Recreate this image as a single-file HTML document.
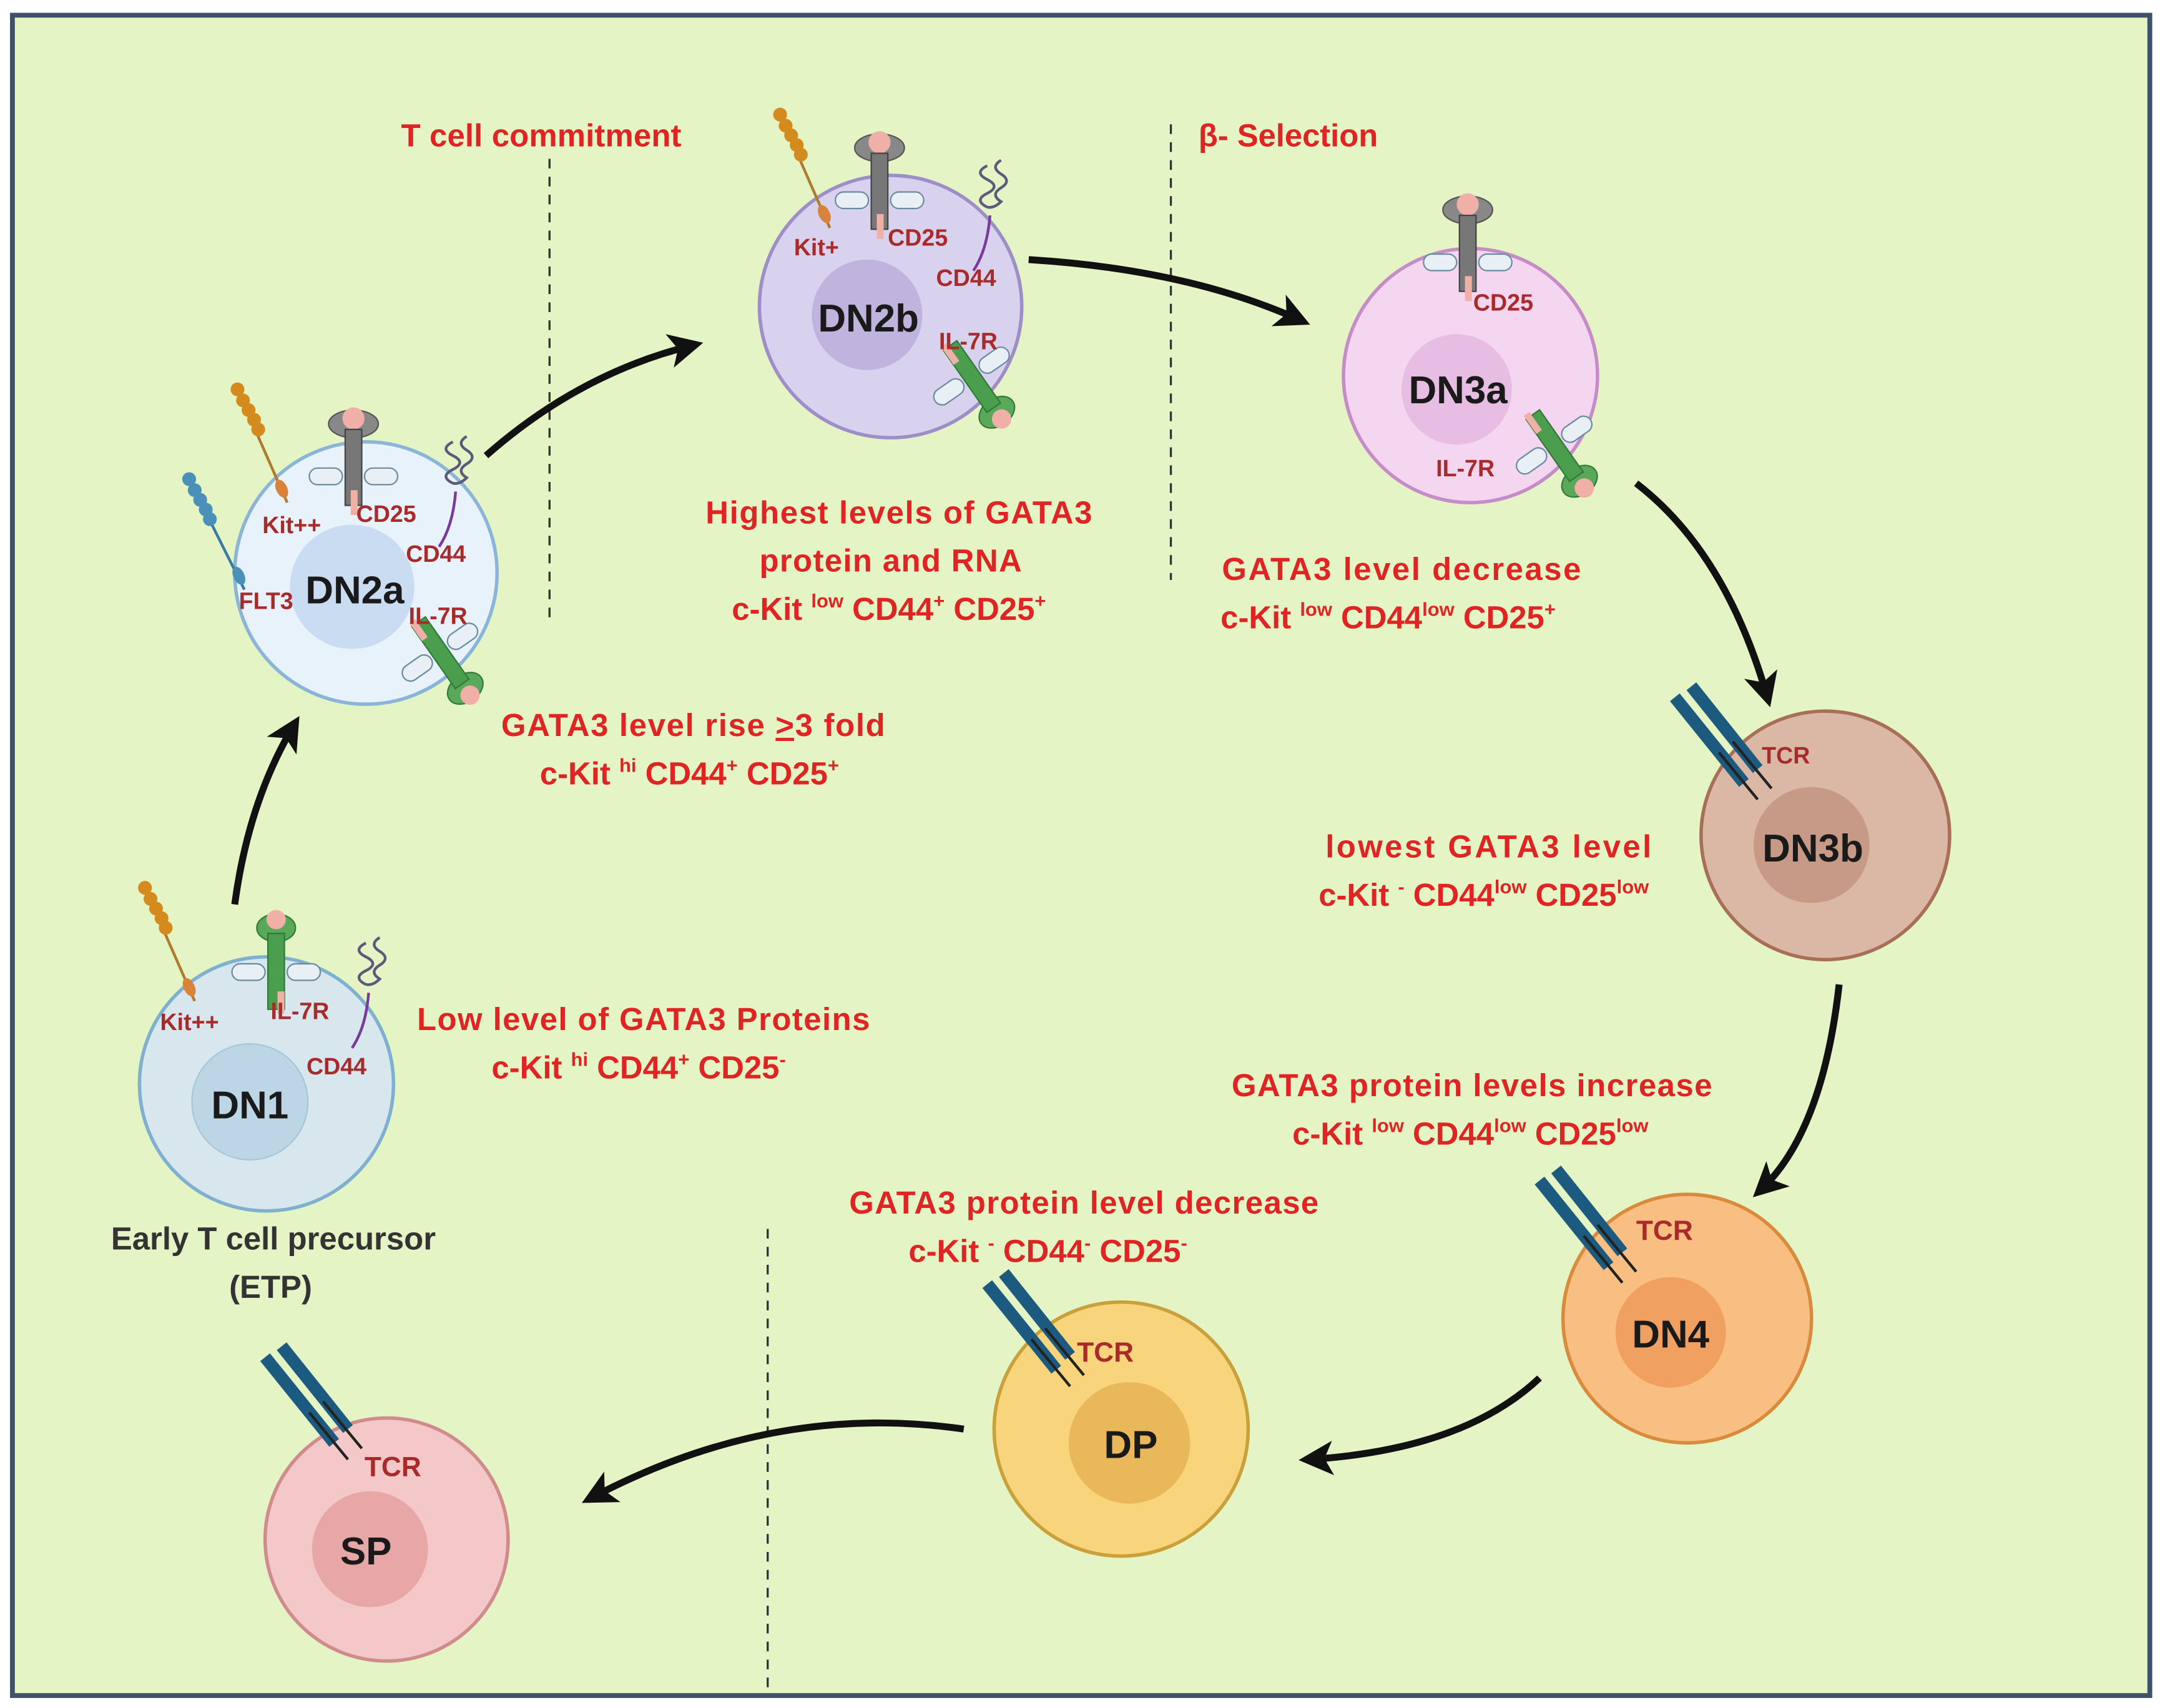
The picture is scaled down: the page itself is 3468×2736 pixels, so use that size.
<!DOCTYPE html>
<html><head><meta charset="utf-8"><style>
html,body{margin:0;padding:0;background:#fff}
svg{display:block}
text{font-family:"Liberation Sans",sans-serif}
.r{fill:#e02424;font-size:23px;font-weight:bold}
.m{fill:#a82a2a;font-size:17px;font-weight:bold}
.n{fill:#1a1a1a;font-size:28px;font-weight:bold}
.k{fill:#333;font-size:23px;font-weight:bold}
</style></head><body>
<svg width="3468" height="2736" viewBox="0 0 1568 1237" xmlns="http://www.w3.org/2000/svg">
<defs>
<marker id="ah" viewBox="0 0 10 10" refX="7" refY="5" markerWidth="5" markerHeight="5" orient="auto"><path d="M0,0 L10,5 L0,10 L2.5,5 z" fill="#111"/></marker>
<g id="kit"><line x1="0" y1="0" x2="36" y2="82" stroke="#b07a30" stroke-width="2"/>
<g fill="#d48a1c"><circle cx="0" cy="0" r="5"/><circle cx="4" cy="8" r="5"/><circle cx="8" cy="15" r="5"/><circle cx="12" cy="22" r="5"/><circle cx="15" cy="29" r="5"/></g>
<ellipse cx="32" cy="72" rx="4" ry="7" fill="#d8823a" transform="rotate(-25 32 72)"/></g>
<g id="flt"><line x1="0" y1="0" x2="40" y2="80" stroke="#3a7aa0" stroke-width="2"/>
<g fill="#4a90b8"><circle cx="0" cy="0" r="5"/><circle cx="4" cy="8" r="5"/><circle cx="8" cy="15" r="5"/><circle cx="12" cy="22" r="5"/><circle cx="15" cy="29" r="5"/></g>
<ellipse cx="36" cy="70" rx="4" ry="7" fill="#4a90b8" transform="rotate(-25 36 70)"/></g>
<g id="grec"><ellipse cx="0" cy="12" rx="18" ry="10" fill="#888" stroke="#555"/><circle cx="0" cy="8" r="8" fill="#f0b0a8"/><rect x="-6" y="16" width="12" height="55" fill="#777" stroke="#444"/><rect x="-2" y="60" width="5" height="18" fill="#f0b0a8"/>
<rect x="-32" y="44" width="24" height="12" rx="6" fill="#e8f0f6" stroke="#6a8aa0"/><rect x="8" y="44" width="24" height="12" rx="6" fill="#e8f0f6" stroke="#6a8aa0"/></g>
<g id="il7"><ellipse cx="0" cy="14" rx="14" ry="10" fill="#5aa85a" stroke="#2f7a3a"/><circle cx="0" cy="8" r="7" fill="#f0b0a8"/><rect x="-6" y="18" width="12" height="55" fill="#4a9e4e" stroke="#2f7a3a"/><rect x="1" y="60" width="5" height="16" fill="#f0b0a8"/>
<rect x="-32" y="40" width="24" height="12" rx="6" fill="#e8f0f6" stroke="#6a8aa0"/><rect x="8" y="40" width="24" height="12" rx="6" fill="#e8f0f6" stroke="#6a8aa0"/></g>
<g id="sq"><path d="M0,0 q-10,5 0,10 q10,5 0,10 q-10,5 0,10 M10,-4 q-8,5 0,10 q8,5 0,10 q-8,5 0,10 q-5,5 -10,4" fill="none" stroke="#5a5a7a" stroke-width="2"/><path d="M2,36 q-2,25 -12,40" fill="none" stroke="#7a3a9a" stroke-width="2"/></g>
<g id="tcr"><line x1="0" y1="0" x2="50" y2="62" stroke="#1d5a80" stroke-width="9"/><line x1="12" y1="-8" x2="60" y2="52" stroke="#1d5a80" stroke-width="9"/>
<line x1="32" y1="40" x2="60" y2="74" stroke="#222" stroke-width="2"/><line x1="42" y1="32" x2="70" y2="66" stroke="#222" stroke-width="2"/></g>
</defs>
<rect x="0" y="0" width="1568" height="1237" fill="#fff"/>
<rect x="9" y="11" width="1548" height="1217" fill="#e4f4c4" stroke="#3f5068" stroke-width="3.5"/>

<g stroke="#333" stroke-width="1.5" stroke-dasharray="7,6"><line x1="398" y1="115" x2="398" y2="448"/><line x1="848" y1="90" x2="848" y2="420"/><line x1="556" y1="890" x2="556" y2="1225"/></g>

<g fill="none" stroke="#111" stroke-width="5" marker-end="url(#ah)">
<path d="M170,655 Q180,580 213,525"/>
<path d="M352,330 Q420,270 502,250"/>
<path d="M745,188 Q860,195 942,232"/>
<path d="M1185,350 Q1250,400 1280,505"/>
<path d="M1332,713 Q1320,820 1275,862"/>
<path d="M1115,998 Q1060,1050 948,1057"/>
<path d="M698,1035 Q560,1015 428,1085"/>
</g>

<!-- DN1 -->
<circle cx="193" cy="785" r="92" fill="#d8e6ee" stroke="#7fb0cf" stroke-width="2.5"/>
<circle cx="181" cy="798" r="42" fill="#bcd6e6" stroke="#a8c6d8"/>
<text class="n" x="181" y="810" text-anchor="middle">DN1</text>
<use href="#kit" x="105" y="643"/><use href="#il7" x="200" y="658"/><use href="#sq" x="265" y="683"/>
<text class="m" x="116" y="746">Kit++</text><text class="m" x="196" y="738">IL-7R</text><text class="m" x="222" y="778">CD44</text>
<text class="k" x="198" y="905" text-anchor="middle">Early T cell precursor</text><text class="k" x="196" y="940" text-anchor="middle">(ETP)</text>

<!-- DN2a -->
<circle cx="265" cy="415" r="95" fill="#e8f2fb" stroke="#8ab4d8" stroke-width="2.5"/>
<circle cx="255" cy="425" r="45" fill="#c9dcf2"/>
<text class="n" x="257" y="437" text-anchor="middle">DN2a</text>
<use href="#kit" x="172" y="282"/><use href="#flt" x="137" y="347"/><use href="#grec" x="256" y="295"/><use href="#sq" x="328" y="320"/>
<use href="#il7" transform="translate(345,510) rotate(145)"/>
<text class="m" x="190" y="386">Kit++</text><text class="m" x="258" y="378">CD25</text><text class="m" x="294" y="407">CD44</text><text class="m" x="173" y="441">FLT3</text><text class="m" x="296" y="452">IL-7R</text>

<!-- DN2b -->
<circle cx="645" cy="222" r="95" fill="#d9d2ee" stroke="#9d8ec8" stroke-width="2.5"/>
<circle cx="628" cy="228" r="40" fill="#c0b3de"/>
<text class="n" x="629" y="240" text-anchor="middle">DN2b</text>
<use href="#kit" x="565" y="83"/><use href="#grec" x="637" y="95"/><use href="#sq" x="715" y="120"/>
<use href="#il7" transform="translate(730,310) rotate(145)"/>
<text class="m" x="575" y="185">Kit+</text><text class="m" x="643" y="178">CD25</text><text class="m" x="678" y="207">CD44</text><text class="m" x="680" y="253">IL-7R</text>

<!-- DN3a -->
<circle cx="1065" cy="272" r="92" fill="#f5d6f0" stroke="#c58cc7" stroke-width="2.5"/>
<circle cx="1055" cy="282" r="40" fill="#e8bde4"/>
<text class="n" x="1056" y="292" text-anchor="middle">DN3a</text>
<use href="#grec" x="1063" y="140"/><use href="#il7" transform="translate(1152,360) rotate(145)"/>
<text class="m" x="1067" y="225">CD25</text><text class="m" x="1040" y="345">IL-7R</text>

<!-- DN3b -->
<circle cx="1322" cy="605" r="90" fill="#dbb8a5" stroke="#a86f57" stroke-width="2.5"/>
<circle cx="1312" cy="612" r="42" fill="#c79a88"/>
<text class="n" x="1313" y="624" text-anchor="middle">DN3b</text>
<use href="#tcr" x="1213" y="505"/><text class="m" x="1276" y="553">TCR</text>

<!-- DN4 -->
<circle cx="1222" cy="955" r="90" fill="#f9bf82" stroke="#d98a3c" stroke-width="2.5"/>
<circle cx="1210" cy="965" r="40" fill="#f0a060"/>
<text class="n" x="1210" y="976" text-anchor="middle">DN4</text>
<use href="#tcr" x="1115" y="855"/><text class="m" x="1185" y="898" style="font-size:20px">TCR</text>

<!-- DP -->
<circle cx="812" cy="1035" r="92" fill="#f8d57c" stroke="#caa03a" stroke-width="2.5"/>
<circle cx="818" cy="1045" r="44" fill="#e9b85a"/>
<text class="n" x="819" y="1056" text-anchor="middle">DP</text>
<use href="#tcr" x="715" y="930"/><text class="m" x="780" y="986" style="font-size:20px">TCR</text>

<!-- SP -->
<circle cx="280" cy="1115" r="88" fill="#f4c8c8" stroke="#d08c8c" stroke-width="2.5"/>
<circle cx="268" cy="1122" r="42" fill="#e8a7a7"/>
<text class="n" x="265" y="1133" text-anchor="middle">SP</text>
<use href="#tcr" x="192" y="983"/><text class="m" x="264" y="1069" style="font-size:20px">TCR</text>

<!-- labels -->
<text class="r" x="392" y="106" text-anchor="middle" textLength="203">T cell commitment</text>
<text class="r" x="868" y="106" textLength="130">β- Selection</text>

<text class="r" x="651" y="379" text-anchor="middle" textLength="280">Highest levels of GATA3</text>
<text class="r" x="645" y="414" text-anchor="middle" textLength="190">protein and RNA</text>
<text class="r" x="530" y="449">c-Kit <tspan font-size="14" dy="-9">low</tspan><tspan dy="9"> CD44</tspan><tspan font-size="14" dy="-9">+</tspan><tspan dy="9"> CD25</tspan><tspan font-size="14" dy="-9">+</tspan></text>

<text class="r" x="1015" y="420" text-anchor="middle" textLength="260">GATA3  level decrease</text>
<text class="r" x="884" y="455">c-Kit <tspan font-size="14" dy="-9">low</tspan><tspan dy="9"> CD44</tspan><tspan font-size="14" dy="-9">low</tspan><tspan dy="9"> CD25</tspan><tspan font-size="14" dy="-9">+</tspan></text>

<text class="r" x="502" y="533" text-anchor="middle" textLength="278">GATA3 level rise <tspan text-decoration="underline">&gt;</tspan>3 fold</text>
<text class="r" x="391" y="568">c-Kit <tspan font-size="14" dy="-9">hi</tspan><tspan dy="9"> CD44</tspan><tspan font-size="14" dy="-9">+</tspan><tspan dy="9"> CD25</tspan><tspan font-size="14" dy="-9">+</tspan></text>

<text class="r" x="1078" y="621" text-anchor="middle" textLength="236">lowest  GATA3  level</text>
<text class="r" x="955" y="656">c-Kit <tspan font-size="14" dy="-9">-</tspan><tspan dy="9"> CD44</tspan><tspan font-size="14" dy="-9">low</tspan><tspan dy="9"> CD25</tspan><tspan font-size="14" dy="-9">low</tspan></text>

<text class="r" x="466" y="746" text-anchor="middle" textLength="328">Low level of GATA3 Proteins</text>
<text class="r" x="356" y="781">c-Kit <tspan font-size="14" dy="-9">hi</tspan><tspan dy="9"> CD44</tspan><tspan font-size="14" dy="-9">+</tspan><tspan dy="9"> CD25</tspan><tspan font-size="14" dy="-9">-</tspan></text>

<text class="r" x="1066" y="794" text-anchor="middle" textLength="348">GATA3 protein levels increase</text>
<text class="r" x="936" y="829">c-Kit <tspan font-size="14" dy="-9">low</tspan><tspan dy="9"> CD44</tspan><tspan font-size="14" dy="-9">low</tspan><tspan dy="9"> CD25</tspan><tspan font-size="14" dy="-9">low</tspan></text>

<text class="r" x="785" y="879" text-anchor="middle" textLength="340">GATA3 protein level decrease</text>
<text class="r" x="658" y="914">c-Kit <tspan font-size="14" dy="-9">-</tspan><tspan dy="9"> CD44</tspan><tspan font-size="14" dy="-9">-</tspan><tspan dy="9"> CD25</tspan><tspan font-size="14" dy="-9">-</tspan></text>
</svg>
</body></html>
